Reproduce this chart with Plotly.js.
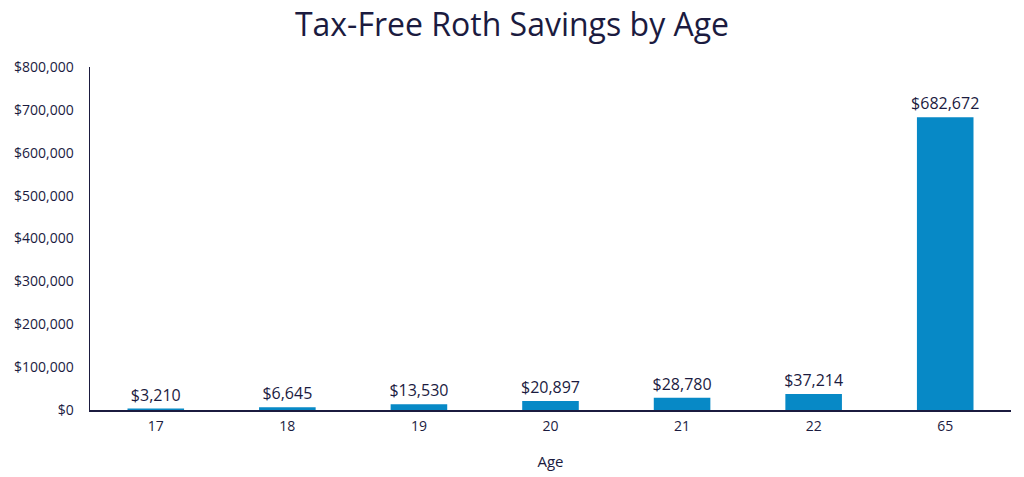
<!DOCTYPE html>
<html>
<head>
<meta charset="utf-8">
<script src="https://cdn.plot.ly/plotly-3.0.1.min.js"></script>
<style>
  html, body { margin: 0; padding: 0; background: #fff; }
  #chart { width: 1024px; height: 477px; }
</style>
</head>
<body>
<div id="chart"></div>
<script>
// ages on the x axis
const ages = ['17', '18', '19', '20', '21', '22', '65'];
// tax-free savings at each age
const savings = [3210, 6645, 13530, 20897, 28780, 37214, 682672];
const yTicks = [0, 100000, 200000, 300000, 400000, 500000, 600000, 700000, 800000];

const navy = '#1b1b3f';
const fontFamily = '"Open Sans", "Noto Sans", sans-serif';

const labels = savings.map((v) => '$' + v.toLocaleString('en-US'));

const trace = {
  type: 'bar',
  x: ages,
  y: savings,
  marker: { color: '#0789c6' },
  text: labels,
  textposition: 'outside',
  constraintext: 'none',
  textfont: { family: fontFamily, size: 16, color: navy },
  cliponaxis: false,
  hoverinfo: 'none',
};

const layout = {
  width: 1024,
  height: 477,
  margin: { l: 90, r: 13, t: 67, b: 67 },
  paper_bgcolor: '#fff',
  plot_bgcolor: '#fff',
  font: { family: fontFamily, color: navy, size: 14 },
  title: {
    text: 'Tax-Free Roth Savings by Age',
    font: { family: fontFamily, size: 32, color: navy },
    x: 0.5,
    xanchor: 'center',
    y: 0.948,
    yanchor: 'middle',
  },
  bargap: 0.57,
  showlegend: false,
  xaxis: {
    type: 'category',
    showline: true,
    linecolor: navy,
    linewidth: 1.5,
    ticks: '',
    showgrid: false,
    ticklabelstandoff: 3,
    tickfont: { size: 14, color: navy },
    title: { text: 'Age', font: { size: 15, color: navy }, standoff: 22 },
  },
  yaxis: {
    range: [0, 800000],
    tickvals: yTicks,
    ticktext: yTicks.map((v) => '$' + v.toLocaleString('en-US')),
    showline: true,
    linecolor: navy,
    linewidth: 1.5,
    showgrid: false,
    zeroline: false,
    ticks: '',
    ticklabelstandoff: 12,
    tickfont: { size: 14, color: navy },
  },
};

Plotly.newPlot('chart', [trace], layout, { displayModeBar: false, staticPlot: true });
</script>
</body>
</html>
